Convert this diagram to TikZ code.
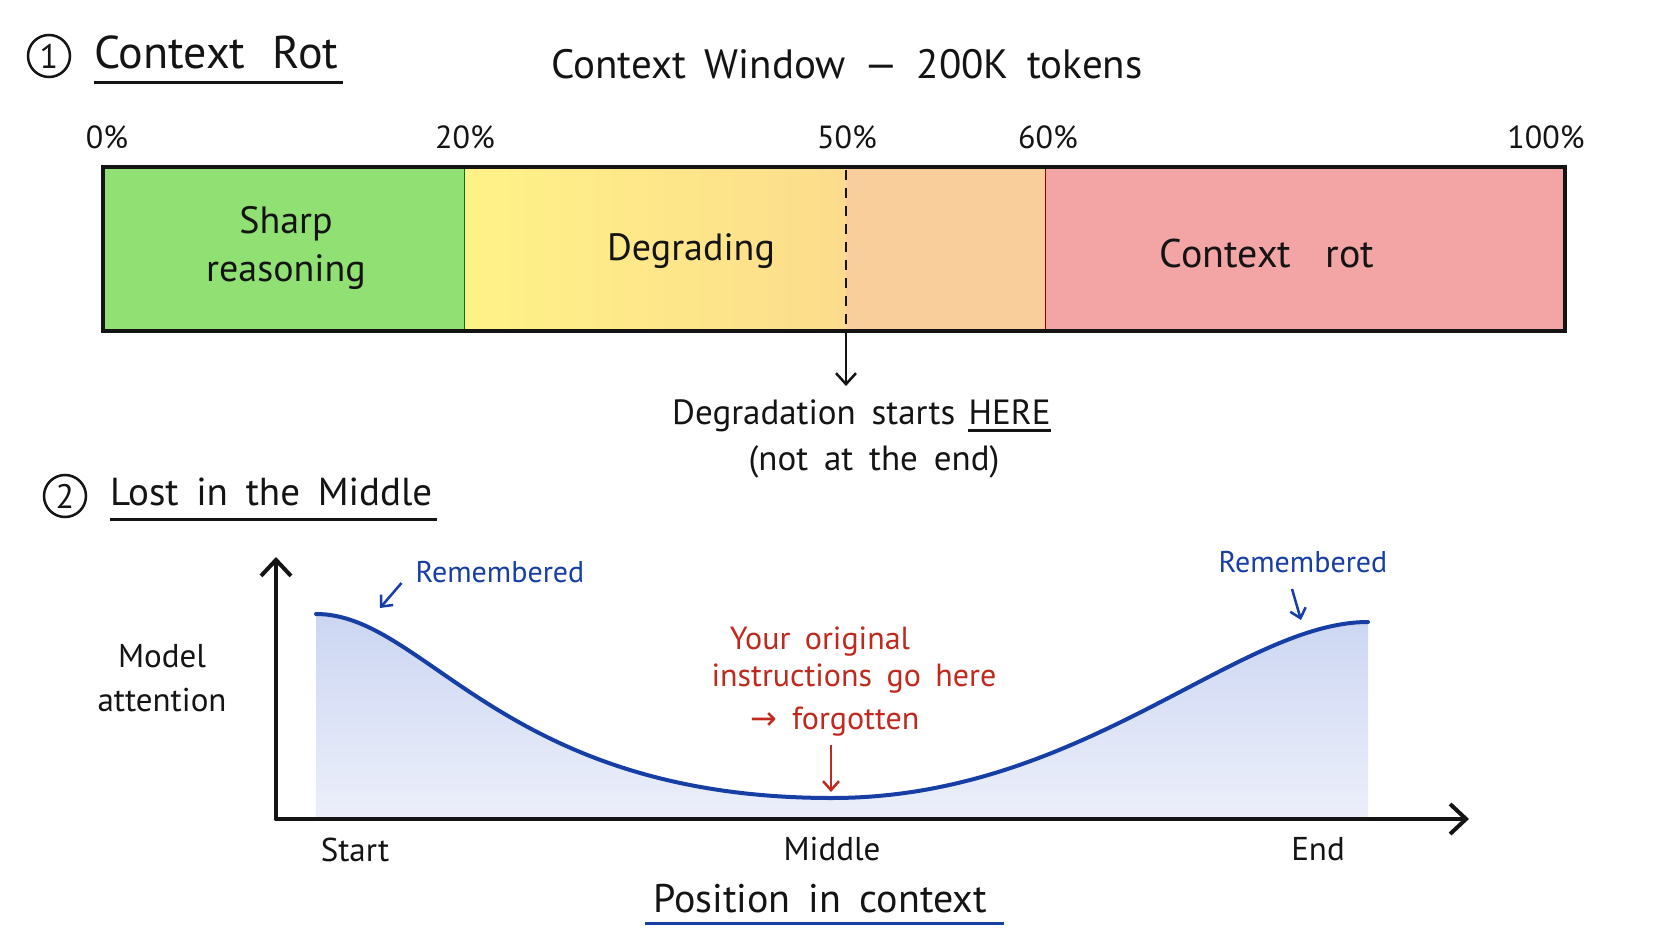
\documentclass[tikz,border=0pt]{standalone}
\usepackage{fontspec}
\setmainfont{PT Sans}[WordSpace={1.7}]
\newfontfamily\arrowfont{DejaVu Sans}
\usetikzlibrary{arrows.meta}
\definecolor{ink}{RGB}{20,20,20}
\definecolor{greenF}{RGB}{145,224,115}
\definecolor{yellowF}{RGB}{255,242,135}
\definecolor{yellowO}{RGB}{252,220,140}
\definecolor{orangeF}{RGB}{250,206,155}
\definecolor{redF}{RGB}{243,165,165}
\definecolor{blueL}{RGB}{204,214,242}
\definecolor{blueB}{RGB}{236,239,250}
\definecolor{blueD}{RGB}{22,62,165}
\definecolor{redT}{RGB}{192,42,30}
\begin{document}
\begin{tikzpicture}[x=1pt,y=-1pt,
  every node/.style={inner sep=0pt, text=ink},
  fsz/.style 2 args={font=\fontsize{#1}{#2}\selectfont},
  numc/.style={circle, draw=ink, line width=2.5pt, minimum size=42pt, fsz={34}{40}},
  ttl/.style={anchor=west},
  uline/.style={line width=3pt, draw=ink},
  pct/.style={fsz={32}{38}},
  barlbl/.style={fsz={38}{48}, align=center},
  body/.style={fsz={35}{42}, align=center},
  axlbl/.style={fsz={33}{44}, align=center},
  bluet/.style={fsz={30}{36}, text=blueD},
  redt/.style={fsz={32}{38}, text=redT},
  arr/.style={draw=ink, line width=2.5pt, -{Straight Barb[length=11pt,width=20pt]}},
  barr/.style={draw=blueD, line width=2.5pt, -{Straight Barb[length=9pt,width=16pt]}},
  rarr/.style={draw=redT, line width=2.5pt, -{Straight Barb[length=9pt,width=16pt]}},
  axis/.style={draw=ink, line width=4pt, line cap=round, -{Straight Barb[length=16pt,width=30pt]}},
  curve/.style={draw=blueD, line width=4pt, line cap=round}
]
\fill[white] (0,0) rectangle (1672,941);
\useasboundingbox (0,0) rectangle (1672,941);

% ---------- Section 1 ----------
\node[numc] (n1) at (49,56) {1};
\node[ttl, fsz={46}{52}] (t1) at (94,52) {Context\hspace{0.6em}Rot};
\draw[uline] (94,83) -- (343,83);
\node[fsz={41}{48}] (win) at (847,64) {Context Window — 200K tokens};

\node[pct] (p0) at (107,137) {0\%};
\node[pct] (p20) at (465,137) {20\%};
\node[pct] (p50) at (847,137) {50\%};
\node[pct] (p60) at (1048,137) {60\%};
\node[pct] (p100) at (1546,137) {100\%};

\fill[greenF] (103,167) rectangle (464,331);
\shade[left color=yellowF, right color=yellowO] (464,167) rectangle (846,331);
\fill[orangeF] (846,167) rectangle (1045,331);
\fill[redF] (1045,167) rectangle (1565,331);
\draw[green!45!black, line width=0.8pt] (464,167) -- (464,331);
\draw[red!55!black, line width=0.8pt] (1045,167) -- (1045,331);
\draw[draw=ink, line width=4pt] (103,167) rectangle (1565,331);
\draw[draw=ink, line width=2.5pt, dash pattern=on 10pt off 8pt] (846,170) -- (846,328);

\node[barlbl] (l1) at (286,248) {Sharp\\reasoning};
\node[barlbl] (l2) at (691,251) {Degrading};
\node[barlbl, fsz={40}{48}] (l3) at (1267,254) {Context\hspace{0.85em}rot};

\coordinate (c50) at (846,331);
\node[body, anchor=base west] (degA) at (672,424) {Degradation starts};
\node[body, anchor=base west] (here) at ([xshift=13pt]degA.base east) {HERE};
\draw[uline] ([yshift=-6pt]here.base west) -- ([yshift=-6pt]here.base east);
\node[body] (degB) at (874,462) {(not at the end)};
\draw[arr] (c50) -- (846,386);

% ---------- Section 2 ----------
\node[numc] (n2) at (65,496) {2};
\node[ttl, fsz={39}{46}] (t2) at (110,492) {Lost in the Middle};
\draw[uline] (110,519) -- (437,519);

\coordinate (O) at (276,819);
\coordinate (ytop) at (276,557);
\coordinate (xend) at (1469,819);

\shade[top color=blueL, bottom color=blueB] (316,614) .. controls (426,614) and (502,798) .. (832,798)
  .. controls (1082,798) and (1238,622) .. (1368,622) -- (1368,817) -- (316,817) -- cycle;
\draw[curve] (316,614) .. controls (426,614) and (502,798) .. (832,798)
  .. controls (1082,798) and (1238,622) .. (1368,622);

\draw[axis] (O) -- (ytop);
\draw[axis] (O) -- (xend);

\node[axlbl] (ylab) at (162,678) {Model\\attention};

\node[bluet] (rem1) at (500,572) {Remembered};
\coordinate (m1) at (380,608);
\draw[barr] ([shift={(-14,11)}]rem1.west) -- (m1);
\node[bluet] (rem2) at (1303,562) {Remembered};
\coordinate (m2) at (1301,620);
\draw[barr] ([shift={(-11,16)}]rem2.south) -- (m2);

\node[redt] (r1) at (820,642) {Your original};
\node[redt] (r2) at (854,679) {instructions go here};
\node[redt] (r3) at (835,722) {{\arrowfont →} forgotten};
\coordinate (mm) at (831,792);
\draw[rarr] (831,745) -- (mm);

\node[axlbl] (xs) at (355,850) {Start};
\node[axlbl] (xm) at (832,849) {Middle};
\node[axlbl] (xe) at (1318,849) {End};
\node[fsz={40}{46}] (pos) at (820,899) {Position in context};
\draw[line width=3pt, draw=blueD] (645,923) -- (1004,923);
\end{tikzpicture}
\end{document}
